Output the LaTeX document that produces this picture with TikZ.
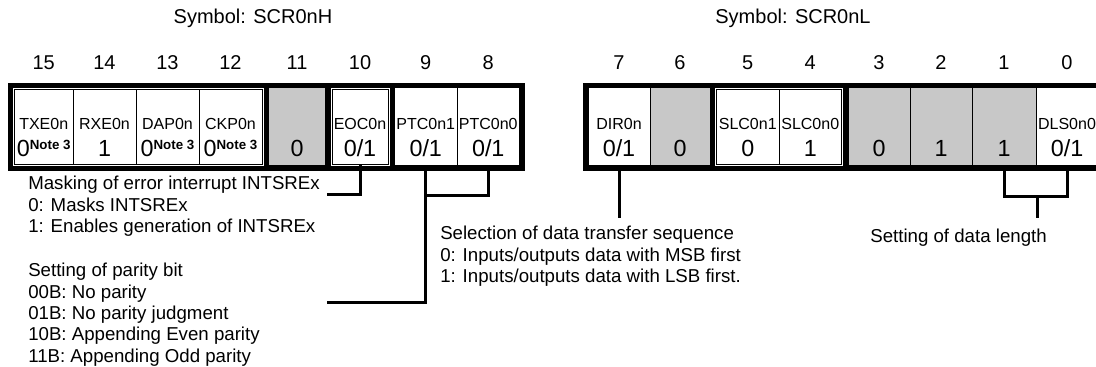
\documentclass[tikz,border=0pt]{standalone}
\usepackage{fontspec}
\setmainfont{Liberation Sans}
\usetikzlibrary{positioning}
\definecolor{gris}{RGB}{200,200,200}
\newcommand{\nota}{\raisebox{0.55ex}{\fontsize{10}{10}\selectfont\bfseries Note 3}}

\begin{document}
\begin{tikzpicture}[x=0.75pt, y=-0.75pt,
  celda/.style={draw, line width=0.75pt, inner sep=0pt, outer sep=0pt},
  marco/.style={line width=3.75pt},
  linea/.style={line width=2.25pt},
  num/.style={font=\fontsize{15}{18}\selectfont},
  nombre/.style={font=\fontsize{12}{14}\selectfont, inner sep=0pt},
  valor/.style={font=\fontsize{17.5}{20}\selectfont, inner sep=0pt},
  texto/.style={font=\fontsize{14}{16}\selectfont, align=left, anchor=north west, inner sep=0pt}
]
\useasboundingbox (0,0) rectangle (1096,367);

% celdas de los dos registros
\foreach \b/\xa/\xb/\ya/\yb/\nm/\vl/\fl in {
  15/14.5/73/89.5/164.5/TXE0n/{0\nota}/white,
  14/73/136/89.5/164.5/RXE0n/1/white,
  13/136/199/89.5/164.5/DAP0n/{0\nota}/white,
  12/199/262/89.5/164.5/CKP0n/{0\nota}/white,
  11/268.5/325.5/88/166//0/gris,
  10/332/388/89.5/164.5/EOC0n/{0/1}/white,
  9/394.5/457/88/166/PTC0n1/{0/1}/white,
  8/457/519.5/88/166/PTC0n0/{0/1}/white,
  7/588/650/88/166/DIR0n/{0/1}/white,
  6/650/710/88/166//0/gris,
  5/716.5/779/89.5/164.5/SLC0n1/0/white,
  4/779/841.5/89.5/164.5/SLC0n0/1/white,
  3/848/910/88/166//0/gris,
  2/910/972/88/166//1/gris,
  1/972/1036/88/166//1/gris,
  0/1036/1098/88/166/DLS0n0/{0/1}/white}
{
  \node[celda, fill=\fl, minimum width={(\xb-\xa)*0.75pt}, minimum height={(\yb-\ya)*0.75pt}] (b\b) at ({(\xa+\xb)/2},{(\ya+\yb)/2}) {};
  \node[num] at (b\b |- 0,63) {\b};
  \node[nombre] at (b\b |- 0,124) {\nm};
  \node[valor] at (b\b |- 0,148) {\vl};
}

% marcos gruesos
\draw[marco] (10.5,85.5) rectangle (266,168.5);
\draw[marco] (266,85.5) rectangle (328,168.5);
\draw[marco] (328,85.5) rectangle (392,168.5);
\draw[marco] (392,85.5) rectangle (522,168.5);
\draw[marco] (585.5,85.5) rectangle (712.5,168.5);
\draw[marco] (712.5,85.5) rectangle (845.5,168.5);
\draw[marco] (845.5,85.5) rectangle (1100.5,168.5);

\node[font=\fontsize{15}{18}\selectfont] (simh) at (253,18) {Symbol: SCR0nH};
\node[font=\fontsize{15}{18}\selectfont] (siml) at (793,18) {Symbol: SCR0nL};

% llaves
\coordinate (eocfin) at (327,195);
\coordinate (ptcfin) at (327,302);
\coordinate (dirfin) at (b7 |- 0,218);
\coordinate (dlsfin) at (1037,218);
\draw[linea] (b10.south) |- (eocfin);
\draw[linea] (b8.south) |- (b9 |- 0,196);
\draw[linea] (b9.south) |- (ptcfin);
\draw[linea] (b7.south) -- (dirfin);
\draw[linea] (b1.south) |- (dlsfin |- 0,197) -| (b0.south);
\draw[linea] (dlsfin |- 0,197) -- (dlsfin);

\node[texto] (masc) at (28,176) {Masking of error interrupt INTSREx\\0: Masks INTSREx\\1: Enables generation of INTSREx};
\node[texto] (pari) at (28,263) {Setting of parity bit\\00B: No parity\\01B: No parity judgment\\10B: Appending Even parity\\11B: Appending Odd parity};
\node[texto] (secu) at (440,226) {Selection of data transfer sequence\\0: Inputs/outputs data with MSB first\\1: Inputs/outputs data with LSB first.};
\node[texto, anchor=north east] (largo) at (1047,229) {Setting of data length};
\end{tikzpicture}
\end{document}
